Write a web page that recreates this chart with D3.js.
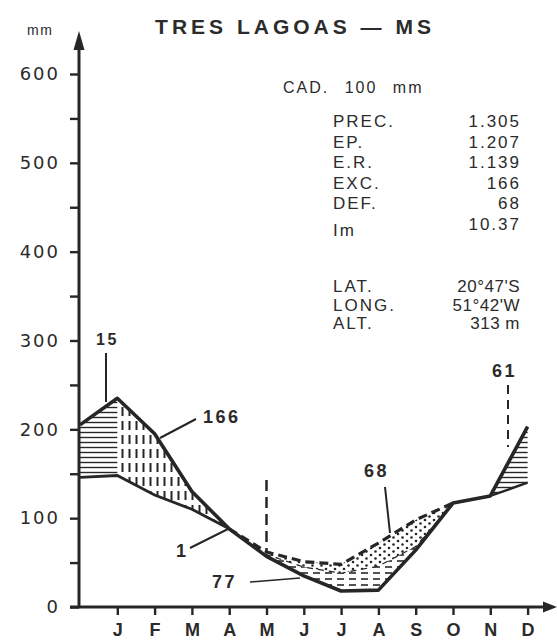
<!DOCTYPE html>
<html>
<head>
<meta charset="utf-8">
<script src="https://cdn.jsdelivr.net/npm/d3@7"></script>
<style>
  body { margin: 0; background: #fff; }
  text { font-family: "Liberation Sans", Arial, sans-serif; fill: #2b2b2b; }
</style>
</head>
<body>
<svg id="chart" width="557" height="642"></svg>
<script>
// water balance chart - Tres Lagoas (MS)
// index 0 is the December that closes the previous cycle, 1..12 are J..D

const months = ["J", "F", "M", "A", "M", "J", "J", "A", "S", "O", "N", "D"];
const precip = [205, 235, 195, 130, 88, 57, 35, 18, 19, 64, 117, 125, 203];
const evapPot = [146, 148, 126, 110, 88, 62, 51, 48, 72, 98, 117, 125, 140];
const evapReal = [146, 148, 126, 110, 88, 59, 45, 38, 46, 68, 117, 125, 140];
const yTicks = [0, 50, 100, 150, 200, 250, 300, 350, 400, 450, 500, 550, 600];

const infoRows = [
  ["PREC.", "1.305"], ["EP.", "1.207"], ["E.R.", "1.139"],
  ["EXC.", "166"], ["DEF.", "68"], ["Im", "10.37"]
];
const siteRows = [["LAT.", "20°47'S"], ["LONG.", "51°42'W"], ["ALT.", "313 m"]];

const ink = "#262626";
const svg = d3.select("#chart");

const x = d3.scaleLinear().domain([0, 12]).range([80, 527.6]);
const y = d3.scaleLinear().domain([0, 600]).range([607, 74]);

let pts = precip.map(function (p, i)
{
  return { i: i, p: p, ep: evapPot[i], er: evapReal[i] };
});

// hatch patterns
let defs = svg.append("defs");

let hz = defs.append("pattern").attr("id", "hz")
  .attr("patternUnits", "userSpaceOnUse").attr("width", 8).attr("height", 5);
hz.append("line").attr("x1", 0).attr("x2", 8).attr("y1", 2.5).attr("y2", 2.5)
  .attr("stroke", ink).attr("stroke-width", 1.4);

let vd = defs.append("pattern").attr("id", "vd")
  .attr("patternUnits", "userSpaceOnUse").attr("width", 7).attr("height", 14);
vd.append("line").attr("x1", 3.5).attr("x2", 3.5).attr("y1", 1).attr("y2", 10)
  .attr("stroke", ink).attr("stroke-width", 2);

let dots = defs.append("pattern").attr("id", "dots")
  .attr("patternUnits", "userSpaceOnUse").attr("width", 9).attr("height", 7);
dots.append("circle").attr("cx", 2).attr("cy", 2).attr("r", 1.3).attr("fill", ink);
dots.append("circle").attr("cx", 6.5).attr("cy", 5.5).attr("r", 1.3).attr("fill", ink);

let hd = defs.append("pattern").attr("id", "hd")
  .attr("patternUnits", "userSpaceOnUse").attr("width", 12).attr("height", 6);
hd.append("line").attr("x1", 1).attr("x2", 8).attr("y1", 3).attr("y2", 3)
  .attr("stroke", ink).attr("stroke-width", 1.6);

// area between two series over a span of indices
function band(k0, k1, top, bottom)
{
  return d3.area()
    .x(function (d) { return x(d.i); })
    .y0(function (d) { return y(d[bottom]); })
    .y1(function (d) { return y(d[top]); })(pts.slice(k0, k1 + 1));
}

svg.append("path").attr("d", band(0, 1, "p", "ep")).attr("fill", "url(#hz)");
svg.append("path").attr("d", band(1, 4, "p", "ep")).attr("fill", "url(#vd)");
svg.append("path").attr("d", band(11, 12, "p", "ep")).attr("fill", "url(#hz)");
svg.append("path").attr("d", band(4, 10, "ep", "er")).attr("fill", "url(#dots)");
svg.append("path").attr("d", band(4, 10, "er", "p")).attr("fill", "url(#hd)");

// lines
function line(key, k0, k1)
{
  return d3.line()
    .x(function (d) { return x(d.i); })
    .y(function (d) { return y(d[key]); })(pts.slice(k0, k1 + 1));
}

svg.append("path").attr("d", line("ep", 0, 4))
  .attr("fill", "none").attr("stroke", ink).attr("stroke-width", 2.8);
svg.append("path").attr("d", line("ep", 4, 10))
  .attr("fill", "none").attr("stroke", ink).attr("stroke-width", 3.2)
  .attr("stroke-dasharray", "9,5");
svg.append("path").attr("d", line("er", 4, 10))
  .attr("fill", "none").attr("stroke", ink).attr("stroke-width", 1.2)
  .attr("stroke-dasharray", "6,5");
svg.append("path").attr("d", line("ep", 10, 12))
  .attr("fill", "none").attr("stroke", ink).attr("stroke-width", 2.4);
svg.append("path").attr("d", line("p", 0, 12))
  .attr("fill", "none").attr("stroke", ink).attr("stroke-width", 3.6)
  .attr("stroke-linejoin", "round");

// axes
let yAxis = svg.append("g").attr("transform", "translate(79,0)")
  .call(d3.axisLeft(y).tickValues(yTicks).tickSize(9).tickPadding(10)
    .tickFormat(function (d) { return d % 100 === 0 ? d : ""; }));
yAxis.select(".domain").remove();
yAxis.selectAll("line").attr("stroke", ink).attr("stroke-width", 2.4);
yAxis.selectAll("text").style("font-family", "'DejaVu Sans', sans-serif")
  .style("font-size", "18px").attr("letter-spacing", "2px").attr("fill", ink);

let xAxis = svg.append("g").attr("transform", "translate(0,607)")
  .call(d3.axisBottom(x).tickValues(d3.range(1, 13)).tickSize(8).tickPadding(8)
    .tickFormat(function (i) { return months[i - 1]; }));
xAxis.select(".domain").remove();
xAxis.selectAll("line").attr("stroke", ink).attr("stroke-width", 2.4);
xAxis.selectAll("text").style("font-size", "18px").style("font-weight", "bold")
  .attr("fill", ink);

svg.append("line").attr("x1", 79).attr("x2", 79).attr("y1", y(0)).attr("y2", 45)
  .attr("stroke", ink).attr("stroke-width", 3);
svg.append("path").attr("d", "M79,31 L73.5,50 L84.5,50 Z").attr("fill", ink);
svg.append("line").attr("x1", 70).attr("x2", 547).attr("y1", y(0)).attr("y2", y(0))
  .attr("stroke", ink).attr("stroke-width", 3);
svg.append("path").attr("d", "M557,607 L543,601.5 L543,612.5 Z").attr("fill", ink);

// titles
svg.append("text").attr("x", 27).attr("y", 35).text("mm")
  .style("font-size", "14px").attr("letter-spacing", "1.5px");
svg.append("text").attr("x", 295).attr("y", 34).attr("text-anchor", "middle")
  .text("TRES LAGOAS — MS")
  .style("font-size", "21px").style("font-weight", "bold").attr("letter-spacing", "4px");

// info block
svg.append("text").attr("x", 283).attr("y", 93).text("CAD. 100 mm")
  .style("font-size", "16px").attr("letter-spacing", "2px").attr("word-spacing", "9px");

infoRows.forEach(function (r, k)
{
  let by = 127 + k * 20.5;
  svg.append("text").attr("x", 333).attr("y", r[0] === "Im" ? by + 6 : by).text(r[0])
    .style("font-size", "17px").attr("letter-spacing", "2px");
  svg.append("text").attr("x", 521).attr("y", by).attr("text-anchor", "end").text(r[1])
    .style("font-size", "17px").attr("letter-spacing", "2px");
});
siteRows.forEach(function (r, k)
{
  let by = 292 + k * 18.5;
  svg.append("text").attr("x", 333).attr("y", by).text(r[0])
    .style("font-size", "17px").attr("letter-spacing", "2px");
  svg.append("text").attr("x", 520).attr("y", by).attr("text-anchor", "end").text(r[1])
    .style("font-size", "17px").attr("letter-spacing", "0.5px");
});

// annotations
function label(tx, ty, s, size)
{
  svg.append("text").attr("x", tx).attr("y", ty).text(s)
    .style("font-size", size + "px").style("font-weight", "bold").attr("letter-spacing", "2.5px");
}
function pointer(x1, y1, x2, y2, w, dash)
{
  svg.append("line").attr("x1", x1).attr("y1", y1).attr("x2", x2).attr("y2", y2)
    .attr("stroke", ink).attr("stroke-width", w)
    .attr("stroke-dasharray", dash || null);
}

label(96, 345, "15", 16);
pointer(106, 353, 106, 402, 2);
label(203, 423, "166", 18);
pointer(160, 438, 196, 419, 2);
label(176, 557, "1", 18);
pointer(190, 548, 230, 528, 2);
label(212, 588, "77", 18);
pointer(250, 582, 300, 578, 1.5);
label(364, 477, "68", 18);
pointer(385, 487, 390, 533, 2);
label(492, 377, "61", 18);
pointer(508, 385, 508, 447, 2, "9,6");
pointer(x(5), 480, x(5), y(evapPot[5]), 2.5, "11,6");
</script>
</body>
</html>
